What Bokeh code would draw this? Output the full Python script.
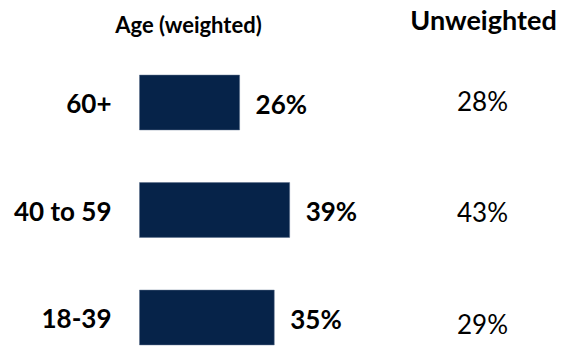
from bokeh.plotting import figure
from bokeh.models import Range1d, ColumnDataSource, Label
from bokeh.embed import file_html
from bokeh.resources import INLINE
from bokeh.core.properties import value

# ---- data ----
categories = ["18-39", "40 to 59", "60+"]
weighted = [35, 39, 26]
unweighted = [29, 43, 28]
weighted_labels = ["35%", "39%", "26%"]
unweighted_labels = ["29%", "43%", "28%"]
header_left = "Age (weighted)"
header_right = "Unweighted"

# ---- layout (pixels) ----
W, H = 567, 347
px_per_pct = 3.85
x0_px = 139          # frame x of 0 %
row_px = 107.5       # distance between rows
row0_px = 317        # frame y (from top) of the first row centre
unw_px = 482         # frame x of the unweighted column centre
unw_offsets = [6, 2, -2]
FONT = "Lato"
BAR = "#062349"

idx = list(range(len(categories)))
src = ColumnDataSource(dict(
    y=idx, cat=categories, w=weighted, u=unweighted,
    wl=weighted_labels, ul=unweighted_labels,
    ux=[(unw_px - x0_px) / px_per_pct] * len(idx),
    uoff=unw_offsets,
))

p = figure(
    width=W, height=H,
    x_range=Range1d(-x0_px / px_per_pct, (W - x0_px) / px_per_pct),
    y_range=Range1d(-(H - row0_px) / row_px, row0_px / row_px),
    x_axis_type=None, y_axis_type=None,
    output_backend="svg", toolbar_location=None, min_border=0,
)
p.grid.visible = False
p.outline_line_color = None
p.background_fill_color = "white"
p.border_fill_color = "white"

p.hbar(y="y", left=0, right="w", height=0.51, source=src,
       fill_color=BAR, line_color="#5a6e8c", line_width=1, line_alpha=0.5)

# category labels
p.text(x=0, y="y", text="cat", source=src, x_offset=-28, y_offset=1,
       text_align="right", text_baseline="alphabetic",
       text_font=value(FONT), text_font_style="bold",
       text_font_size="26px", text_color="black")

# weighted value labels
p.text(x="w", y="y", text="wl", source=src, x_offset=16, y_offset=1,
       text_align="left", text_baseline="alphabetic",
       text_font=value(FONT), text_font_style="bold",
       text_font_size="26px", text_color="black")

# unweighted values
p.text(x="ux", y="y", text="ul", source=src, y_offset="uoff",
       text_align="center", text_baseline="alphabetic",
       text_font=value(FONT), text_font_style="normal",
       text_font_size="26px", text_color="black")

p.add_layout(Label(x=188, y=323, x_units="screen", y_units="screen",
                   text=header_left, text_align="center",
                   text_baseline="alphabetic", text_font=FONT,
                   text_font_style="bold", text_font_size="22px",
                   text_color="black"))
p.add_layout(Label(x=483, y=328, x_units="screen", y_units="screen",
                   text=header_right, text_align="center",
                   text_baseline="alphabetic", text_font=FONT,
                   text_font_style="bold", text_font_size="27px",
                   text_color="black"))

open("out.html", "w").write(file_html(p, INLINE))
